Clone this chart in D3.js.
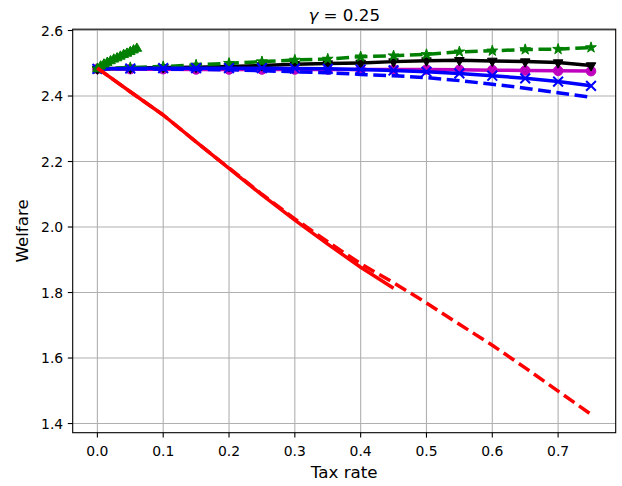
<!DOCTYPE html>
<html><head><meta charset="utf-8">
<script src="https://cdn.jsdelivr.net/npm/d3@7"></script>
<style>body{margin:0;background:#fff}svg{display:block}text{font-family:"DejaVu Sans",sans-serif}</style>
</head><body><svg id="c" width="622" height="486"></svg>
<script>
const xGrid = [0,0.05,0.1,0.15,0.2,0.25,0.3,0.35,0.4,0.45,0.5,0.55,0.6,0.65,0.7,0.75];
const redSolidX = [0,0.05,0.1,0.15,0.2,0.25,0.3,0.35,0.4,0.45];
const redSolid  = [2.485,2.413,2.342,2.260,2.179,2.098,2.021,1.948,1.877,1.813];
const redDashed = [2.485,2.413,2.342,2.260,2.180,2.100,2.025,1.955,1.888,1.830,1.768,1.703,1.639,1.570,1.499,1.428];
const greenTriX = [0,0.005,0.01,0.015,0.02,0.025,0.03,0.035,0.04,0.045,0.05,0.055,0.06];
const greenTri  = [2.483,2.491,2.497,2.502,2.507,2.512,2.516,2.521,2.526,2.530,2.535,2.540,2.545];
const greenStar = [2.483,2.487,2.490,2.495,2.500,2.505,2.510,2.513,2.520,2.523,2.527,2.535,2.538,2.542,2.543,2.548];
const blackTri  = [2.483,2.485,2.487,2.488,2.490,2.493,2.497,2.499,2.501,2.505,2.508,2.509,2.507,2.505,2.502,2.493];
const magentaO  = [2.483,2.482,2.482,2.481,2.481,2.481,2.481,2.481,2.481,2.481,2.481,2.480,2.479,2.478,2.477,2.476];
const blueX     = [2.483,2.484,2.485,2.485,2.485,2.485,2.484,2.483,2.481,2.478,2.474,2.469,2.462,2.454,2.444,2.431];
const blueDash  = [2.483,2.483,2.482,2.481,2.480,2.477,2.474,2.471,2.466,2.462,2.456,2.447,2.436,2.424,2.410,2.396];
const xTicks = [0,0.1,0.2,0.3,0.4,0.5,0.6,0.7];
const yTicks = [1.4,1.6,1.8,2.0,2.2,2.4,2.6];
const titleText = "γ = 0.25", xLabel = "Tax rate", yLabel = "Welfare";

const svg = d3.select("#c");
const L=72.7, R=615.7, T=29.2, B=432.7;
const x = d3.scaleLinear().domain([-0.0375,0.7875]).range([L,R]);
const y = d3.scaleLinear().domain([1.372,2.604]).range([B,T]);

const g = svg.append("g");
g.selectAll(".gx").data(xTicks).join("line").attr("x1",d=>x(d)).attr("x2",d=>x(d)).attr("y1",T).attr("y2",B)
 .attr("stroke","#b0b0b0").attr("stroke-width",1.1);
g.selectAll(".gy").data(yTicks).join("line").attr("y1",d=>y(d)).attr("y2",d=>y(d)).attr("x1",L).attr("x2",R)
 .attr("stroke","#b0b0b0").attr("stroke-width",1.1);

svg.append("defs").append("clipPath").attr("id","cp").append("rect")
 .attr("x",L).attr("y",T).attr("width",R-L).attr("height",B-T);
const plot = svg.append("g").attr("clip-path","url(#cp)");

function series(xs, ys, color, dashed, marker){
  const pts = xs.map((d,i)=>[d,ys[i]]);
  const line = d3.line().x(d=>x(d[0])).y(d=>y(d[1]));
  plot.append("path").datum(pts).attr("d",line).attr("fill","none").attr("stroke",color)
    .attr("stroke-width",3.5).attr("stroke-dasharray",dashed?"12.8,5.6":null).attr("stroke-linejoin","round");
  if(!marker) return;
  let sym, size, rot=0, stroke=false;
  if(marker==="o"){sym=d3.symbolCircle; size=Math.PI*4.8*4.8;}
  if(marker==="*"){sym=d3.symbolStar; size=36;}
  if(marker==="v"){sym=d3.symbolTriangle; size=40; rot=180;}
  if(marker==="^"){sym=d3.symbolTriangle; size=40;}
  if(marker==="x"){sym=d3.symbolTimes; size=64; stroke=true;}
  plot.selectAll(null).data(pts).join("path")
    .attr("d",d3.symbol().type(sym).size(size))
    .attr("transform",d=>`translate(${x(d[0])},${y(d[1])}) rotate(${rot})`)
    .attr("fill",stroke?"none":color).attr("stroke",color).attr("stroke-width",stroke?2:1);
}
series(xGrid, magentaO, "#bf00bf", false, "o");
series(xGrid, blackTri, "#000000", false, "v");
series(xGrid, greenStar, "#008000", true, "*");
series(xGrid, blueDash, "#0000ff", true, null);
series(xGrid, blueX, "#0000ff", false, "x");
series(greenTriX, greenTri, "#008000", false, "^");
series(xGrid, redDashed, "#ff0000", true, null);
series(redSolidX, redSolid, "#ff0000", false, null);

svg.append("rect").attr("x",L).attr("y",T).attr("width",R-L).attr("height",B-T)
  .attr("fill","none").attr("stroke","#000").attr("stroke-width",1.1);

svg.selectAll(".tx").data(xTicks).join("line").attr("x1",d=>x(d)).attr("x2",d=>x(d)).attr("y1",B).attr("y2",B+4.9)
  .attr("stroke","#000").attr("stroke-width",1.1);
svg.selectAll(".ty").data(yTicks).join("line").attr("y1",d=>y(d)).attr("y2",d=>y(d)).attr("x1",L-4.9).attr("x2",L)
  .attr("stroke","#000").attr("stroke-width",1.1);
svg.selectAll(".lx").data(xTicks).join("text").attr("x",d=>x(d)).attr("y",B+22.8).attr("text-anchor","middle")
  .attr("font-size","13.9px").attr("fill","#000").text(d=>d3.format(".1f")(d));
svg.selectAll(".ly").data(yTicks).join("text").attr("x",L-9.5).attr("y",d=>y(d)+5).attr("text-anchor","end")
  .attr("font-size","13.9px").attr("fill","#000").text(d=>d3.format(".1f")(d));

svg.append("text").attr("x",(L+R)/2).attr("y",478).attr("text-anchor","middle").attr("font-size","16.7px").text(xLabel);
svg.append("text").attr("transform",`translate(28,${(T+B)/2}) rotate(-90)`).attr("text-anchor","middle")
  .attr("font-size","16.7px").text(yLabel);
const tt = svg.append("text").attr("x",(L+R)/2).attr("y",20.5).attr("text-anchor","middle").attr("font-size","16.7px");
tt.append("tspan").attr("font-style","italic").text(titleText.slice(0,1));
tt.append("tspan").text(titleText.slice(1));
</script></body></html>
